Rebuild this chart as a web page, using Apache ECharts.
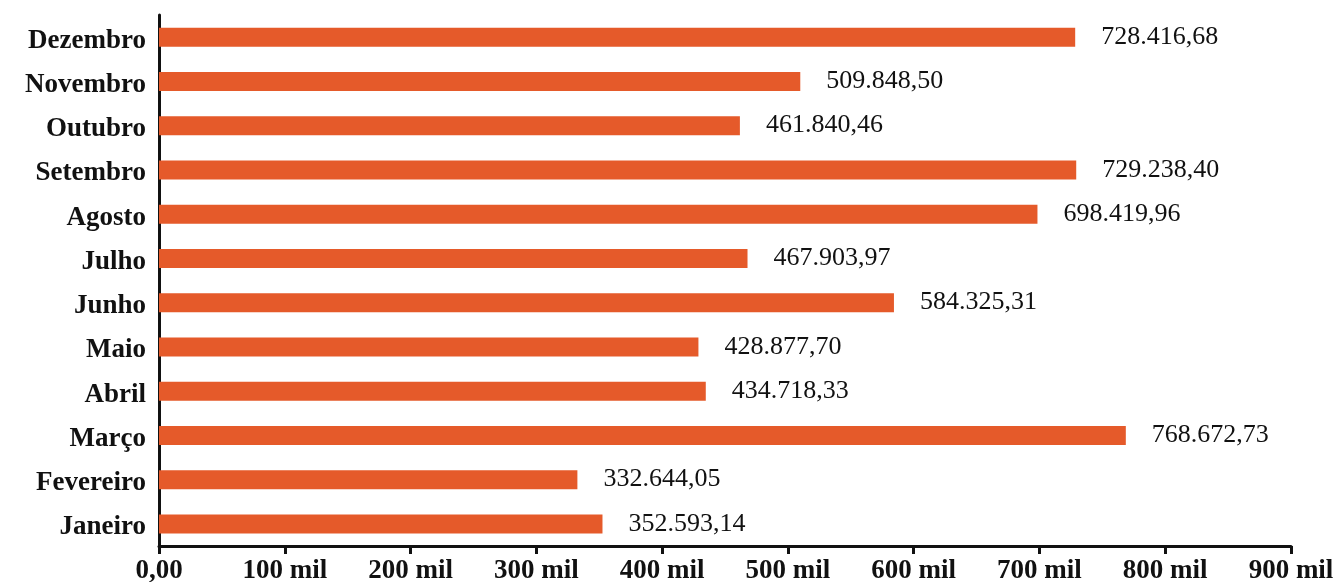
<!DOCTYPE html>
<html>
<head>
<meta charset="utf-8">
<script src="https://cdn.jsdelivr.net/npm/echarts@6/dist/echarts.min.js"></script>
<style>
  html, body { margin: 0; padding: 0; background: #fff; }
  #chart { width: 1335px; height: 582px; }
</style>
</head>
<body>
<div id="chart"></div>
<script>
// Monthly totals (R$), January to December
const months = ['Janeiro', 'Fevereiro', 'Março', 'Abril', 'Maio', 'Junho',
                'Julho', 'Agosto', 'Setembro', 'Outubro', 'Novembro', 'Dezembro'];
const totals = [352593.14, 332644.05, 768672.73, 434718.33, 428877.70, 584325.31,
                467903.97, 698419.96, 729238.40, 461840.46, 509848.50, 728416.68];
const xTicks = [0, 100000, 200000, 300000, 400000, 500000, 600000, 700000, 800000, 900000];

// pt-BR number format: thousands with '.', decimals with ','
function formatBR(v) {
  const parts = v.toFixed(2).split('.');
  const intPart = parts[0].replace(/\B(?=(\d{3})+(?!\d))/g, '.');
  return intPart + ',' + parts[1];
}

const FONT = '"Liberation Serif", "DejaVu Serif", serif';
const chart = echarts.init(document.getElementById('chart'));

chart.setOption({
  animation: false,
  backgroundColor: '#ffffff',
  grid: {
    left: 159, right: 44, top: 15, bottom: 36,
    containLabel: false,
    outerBoundsMode: 'none'
  },
  xAxis: {
    type: 'value',
    min: xTicks[0],
    max: xTicks[xTicks.length - 1],
    interval: xTicks[1] - xTicks[0],
    splitLine: { show: false },
    axisLine: { show: true, lineStyle: { color: '#111', width: 3 } },
    axisTick: { show: true, length: 8, lineStyle: { color: '#111', width: 3 } },
    axisLabel: {
      margin: 12,
      color: '#111',
      fontFamily: FONT,
      fontWeight: 'bold',
      fontSize: 27,
      formatter: v => v === 0 ? '0,00' : (v / 1000) + ' mil'
    }
  },
  yAxis: {
    type: 'category',
    data: months,
    axisLine: { show: true, lineStyle: { color: '#111', width: 3 } },
    axisTick: { show: false },
    axisLabel: {
      margin: 13,
      color: '#111',
      fontFamily: FONT,
      fontWeight: 'bold',
      fontSize: 27,
      verticalAlign: 'top',
      lineHeight: 7
    }
  },
  series: [{
    type: 'bar',
    data: totals,
    barWidth: 19,
    itemStyle: { color: '#E55A2A' },
    label: {
      show: true,
      position: 'right',
      distance: 26,
      color: '#111',
      fontFamily: FONT,
      fontSize: 26,
      formatter: p => formatBR(p.value)
    }
  }]
});
</script>
</body>
</html>
